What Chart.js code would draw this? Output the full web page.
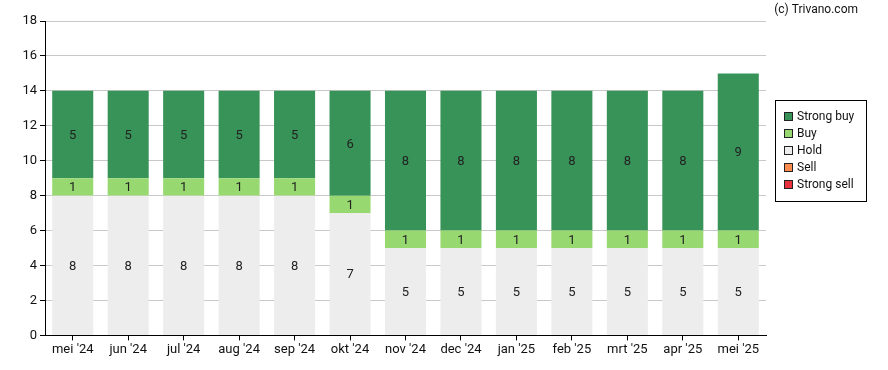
<!DOCTYPE html>
<html><head><meta charset="utf-8">
<script src="https://cdn.jsdelivr.net/npm/chart.js@4/dist/chart.umd.min.js"></script>
<style>html,body{margin:0;padding:0;background:#fff}#wrap{width:888px;height:370px}</style>
</head><body><div id="wrap"><canvas id="c" width="888" height="370"></canvas></div>
<script>
const categories = ["mei '24","jun '24","jul '24","aug '24","sep '24","okt '24","nov '24","dec '24","jan '25","feb '25","mrt '25","apr '25","mei '25"];
const strongSell = [0,0,0,0,0,0,0,0,0,0,0,0,0];
const sell       = [0,0,0,0,0,0,0,0,0,0,0,0,0];
const hold       = [8,8,8,8,8,7,5,5,5,5,5,5,5];
const buy        = [1,1,1,1,1,1,1,1,1,1,1,1,1];
const strongBuy  = [5,5,5,5,5,6,8,8,8,8,8,8,9];
const yTicks = [0,2,4,6,8,10,12,14,16,18];

const FONT = 'Roboto, "Liberation Sans", Arial, sans-serif';

const labelPlugin = {
  id: 'barLabels',
  afterDatasetsDraw(chart) {
    const ctx = chart.ctx;
    ctx.save();
    ctx.font = '13px ' + FONT;
    ctx.fillStyle = '#222';
    ctx.textAlign = 'center';
    ctx.textBaseline = 'middle';
    chart.data.datasets.forEach((ds, i) => {
      const meta = chart.getDatasetMeta(i);
      meta.data.forEach((bar, j) => {
        const v = ds.data[j];
        if (!v) return;
        const p = bar.getProps(['x','y','base'], true);
        ctx.fillText(String(v), p.x, (p.y + p.base) / 2 + 1);
      });
    });
    ctx.restore();
  }
};

const legendPlugin = {
  id: 'boxLegend',
  afterDraw(chart) {
    const ctx = chart.ctx;
    ctx.save();
    const x = 775, y = 100, w = 91, h = 101;
    ctx.fillStyle = '#fff';
    ctx.fillRect(x, y, w, h);
    ctx.strokeStyle = '#000';
    ctx.lineWidth = 1;
    ctx.strokeRect(x + 0.5, y + 0.5, w, h);
    const items = chart.data.datasets.slice().reverse();
    ctx.font = '12px ' + FONT;
    ctx.textBaseline = 'middle';
    ctx.textAlign = 'left';
    items.forEach((ds, i) => {
      const cy = y + 17 + i * 17;
      ctx.fillStyle = ds.backgroundColor;
      ctx.fillRect(x + 9, cy - 4, 8, 8);
      ctx.strokeStyle = '#222';
      ctx.strokeRect(x + 9.5, cy - 4.5, 8, 8);
      ctx.fillStyle = '#111';
      ctx.fillText(ds.label, x + 22, cy);
    });
    ctx.font = '12px ' + FONT;
    ctx.textAlign = 'right';
    ctx.fillStyle = '#111';
    ctx.fillText('(c) Trivano.com', 858, 10);
    ctx.restore();
  }
};

const mk = (label, data, color) => ({label, data, backgroundColor: color, borderWidth: 0, barPercentage: 0.74, categoryPercentage: 1});

new Chart(document.getElementById('c'), {
  type: 'bar',
  data: {
    labels: categories,
    datasets: [
      mk('Strong sell', strongSell, '#e8313f'),
      mk('Sell', sell, '#fd8c4e'),
      mk('Hold', hold, '#ededed'),
      mk('Buy', buy, '#98d870'),
      mk('Strong buy', strongBuy, '#389358')
    ]
  },
  options: {
    responsive: false,
    animation: false,
    devicePixelRatio: 1,
    layout: {padding: {left: 0, right: 122, top: 21, bottom: 10}},
    plugins: {legend: {display: false}, tooltip: {enabled: false}},
    scales: {
      x: {
        stacked: true,
        grid: {display: true, drawOnChartArea: false, drawTicks: true, tickLength: 5, tickColor: '#000', offset: false},
        border: {color: '#000', width: 1},
        ticks: {color: '#111', font: {family: FONT, size: 13}, padding: 2, maxRotation: 0, autoSkip: false}
      },
      y: {
        stacked: true,
        min: 0, max: 18,
        afterBuildTicks(axis) { axis.ticks = yTicks.map(v => ({value: v})); },
        afterFit(axis) { axis.width = 45; },
        grid: {color: '#c8c8c8', tickLength: 5, tickColor: '#000'},
        border: {color: '#000', width: 1},
        ticks: {color: '#111', font: {family: FONT, size: 13}, padding: 3}
      }
    }
  },
  plugins: [labelPlugin, legendPlugin]
});
</script></body></html>
